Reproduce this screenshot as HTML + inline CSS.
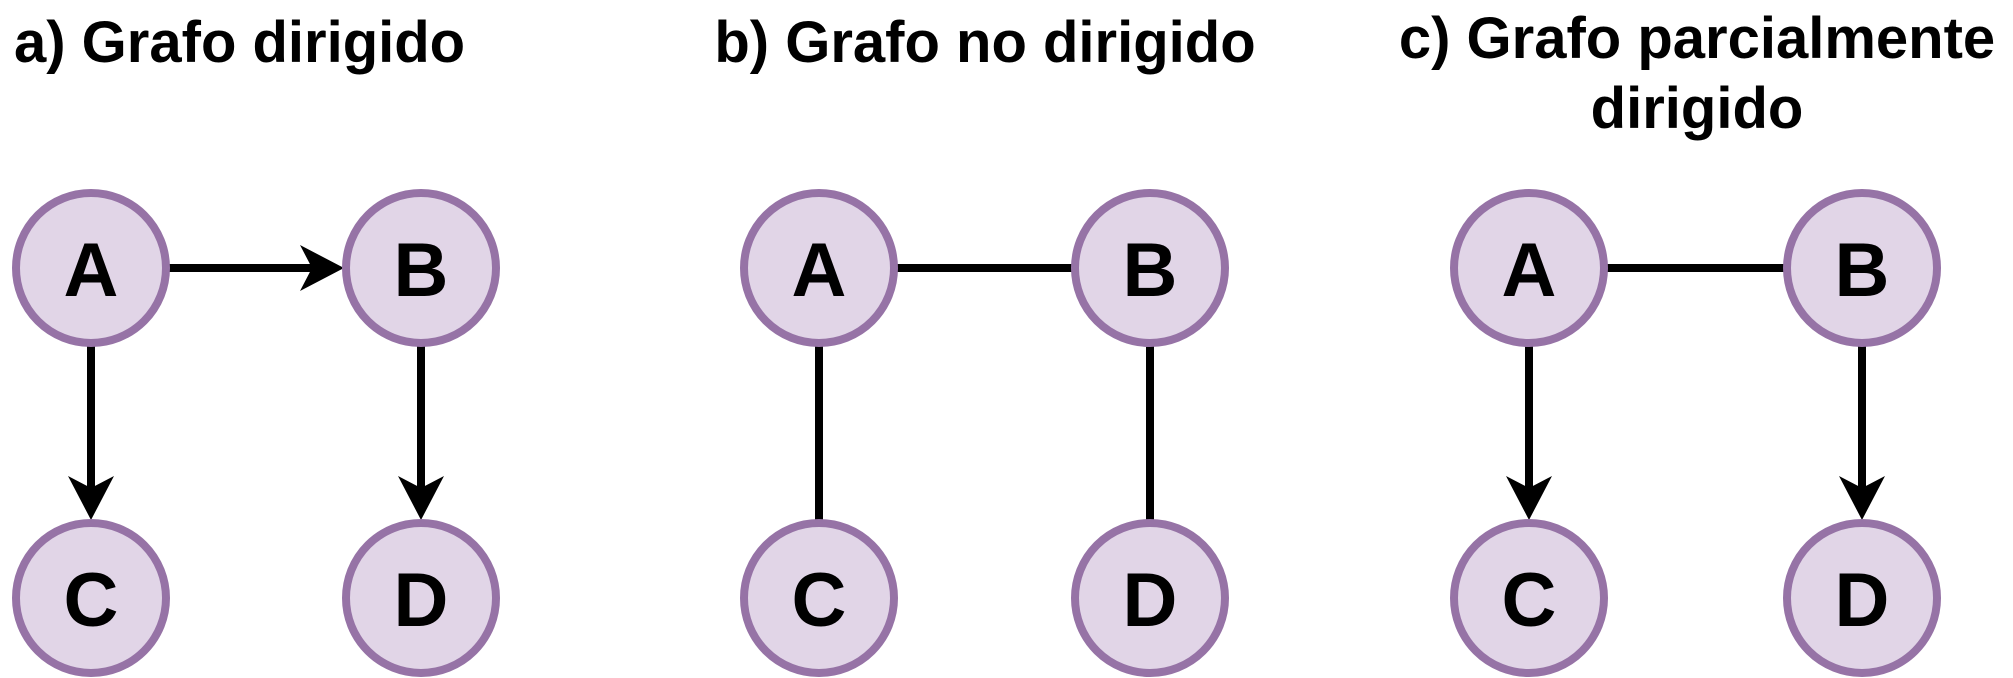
<!DOCTYPE html>
<html><head><meta charset="utf-8"><style>
html,body{margin:0;padding:0;background:#fff;}
svg{display:block;}
text{font-family:"Liberation Sans",Arial,sans-serif;font-weight:bold;fill:#000;}
</style></head><body>
<svg width="2013" height="678" viewBox="0 0 2013 678" xmlns="http://www.w3.org/2000/svg">
<g font-size="58">
<text x="14" y="62">a) Grafo dirigido</text>
<text x="985" y="62" text-anchor="middle">b) Grafo no dirigido</text>
<text x="1697" y="58" text-anchor="middle">c) Grafo parcialmente</text>
<text x="1697" y="128" text-anchor="middle">dirigido</text>
</g>
<g stroke="#000" stroke-width="8" fill="none">
<!-- a -->
<line x1="167" y1="268" x2="320" y2="268"/>
<line x1="91" y1="344" x2="91" y2="500"/>
<line x1="421" y1="344" x2="421" y2="500"/>
<!-- b -->
<line x1="897" y1="268" x2="1072" y2="268"/>
<line x1="819" y1="344" x2="819" y2="522"/>
<line x1="1150" y1="344" x2="1150" y2="522"/>
<!-- c -->
<line x1="1607" y1="268" x2="1784" y2="268"/>
<line x1="1529" y1="344" x2="1529" y2="500"/>
<line x1="1862" y1="344" x2="1862" y2="500"/>
</g>
<g fill="#000">
<path d="M344,268 L300,245 L312,268 L300,291 Z"/>
<path d="M91,520 L68,476 L91,488 L114,476 Z"/>
<path d="M421,520 L398,476 L421,488 L444,476 Z"/>
<path d="M1529,520 L1506,476 L1529,488 L1552,476 Z"/>
<path d="M1862,520 L1839,476 L1862,488 L1885,476 Z"/>
</g>
<g fill="#e1d5e7" stroke="#9673a6" stroke-width="8">
<circle cx="91" cy="268" r="75"/><circle cx="421" cy="268" r="75"/>
<circle cx="91" cy="598" r="75"/><circle cx="421" cy="598" r="75"/>
<circle cx="819" cy="268" r="75"/><circle cx="1150" cy="268" r="75"/>
<circle cx="819" cy="598" r="75"/><circle cx="1150" cy="598" r="75"/>
<circle cx="1529" cy="268" r="75"/><circle cx="1862" cy="268" r="75"/>
<circle cx="1529" cy="598" r="75"/><circle cx="1862" cy="598" r="75"/>
</g>
<g font-size="76" text-anchor="middle">
<text x="91" y="296">A</text><text x="421" y="296">B</text>
<text x="91" y="626">C</text><text x="421" y="626">D</text>
<text x="819" y="296">A</text><text x="1150" y="296">B</text>
<text x="819" y="626">C</text><text x="1150" y="626">D</text>
<text x="1529" y="296">A</text><text x="1862" y="296">B</text>
<text x="1529" y="626">C</text><text x="1862" y="626">D</text>
</g>
</svg>
</body></html>
